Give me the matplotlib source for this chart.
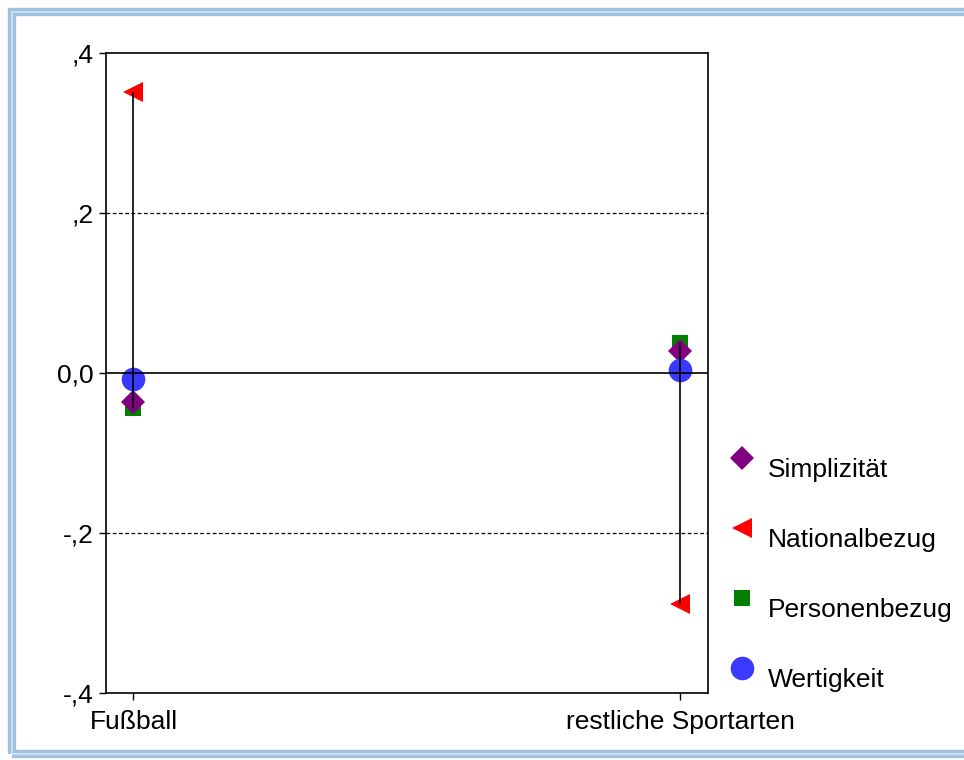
import matplotlib.pyplot as plt
from matplotlib.lines import Line2D
from matplotlib.patches import Rectangle

plt.rcParams["font.family"] = ["Liberation Sans", "DejaVu Sans"]

# ---------------------- DATA ----------------------
categories = ["Fußball", "restliche Sportarten"]
series = ["Simplizität", "Nationalbezug", "Personenbezug", "Wertigkeit"]
simplizitaet = [-0.036, 0.028]
nationalbezug = [0.351, -0.289]
personenbezug = [-0.044, 0.037]
wertigkeit = [-0.007, 0.004]
yticks = [-0.4, -0.2, 0.0, 0.2, 0.4]
ytick_labels = ["-,4", "-,2", "0,0", ",2", ",4"]

values = [simplizitaet, nationalbezug, personenbezug, wertigkeit]
markers = ["D", "<", "s", "o"]
sizes = [12, 15, 12, 17]
colors = ["#800080", "#ff0000", "#007f00", "#3a3aff"]
draw_order = [2, 0, 1, 3]
FS = 19

W, H = 964, 760
fig = plt.figure(figsize=(W / 100, H / 100), dpi=100)
ax = fig.add_axes([106 / W, 1 - 693 / H, (708 - 106) / W, (693 - 53) / H])

x = list(range(len(categories)))

for i in draw_order:
    ax.plot(x, values[i], linestyle="none", marker=markers[i], markersize=sizes[i],
            color=colors[i], markeredgewidth=0, zorder=3)

# high-low lines
for j in x:
    col = [v[j] for v in values]
    ax.vlines(j, min(col), max(col), color="black", linewidth=1.2, zorder=4)

ax.axhline(0, color="black", linewidth=1.2, zorder=4)
for yv in (-0.2, 0.2):
    ax.axhline(yv, color="black", linewidth=0.9, linestyle=(0, (3, 2)), zorder=1)

ax.set_xlim(-0.0503, 1.051)
ax.set_ylim(-0.4, 0.4)
ax.set_yticks(yticks)
ax.set_yticklabels(ytick_labels)
ax.set_xticks(x)
ax.set_xticklabels(categories)
ax.tick_params(axis="both", direction="out", length=5, width=1, labelsize=FS,
               colors="black", pad=4)
ax.tick_params(axis="x", pad=7)
for s in ax.spines.values():
    s.set_linewidth(1.2)

# legend (manual, text sits a bit below its marker)
for k, name in enumerate(series):
    my = 458 + 70 * k
    fig.add_artist(Line2D([742 / W], [1 - my / H], transform=fig.transFigure,
                          marker=markers[k], markersize=sizes[k], color=colors[k],
                          markeredgewidth=0, linestyle="none"))
    fig.text(768 / W, 1 - (my + 12) / H, name, fontsize=FS, va="center", ha="left")

# light blue double frame around the picture
fig.add_artist(Rectangle((12 / W, 1 - 754 / H), (W + 20) / W, (754 - 12) / H,
                         transform=fig.transFigure, fill=False,
                         edgecolor="#9fc2e2", linewidth=6))
fig.add_artist(Rectangle((12 / W, 1 - 754 / H), (W + 20) / W, (754 - 12) / H,
                         transform=fig.transFigure, fill=False,
                         edgecolor="#d6e6f4", linewidth=1.2))

fig.savefig("out.png", dpi=100)
